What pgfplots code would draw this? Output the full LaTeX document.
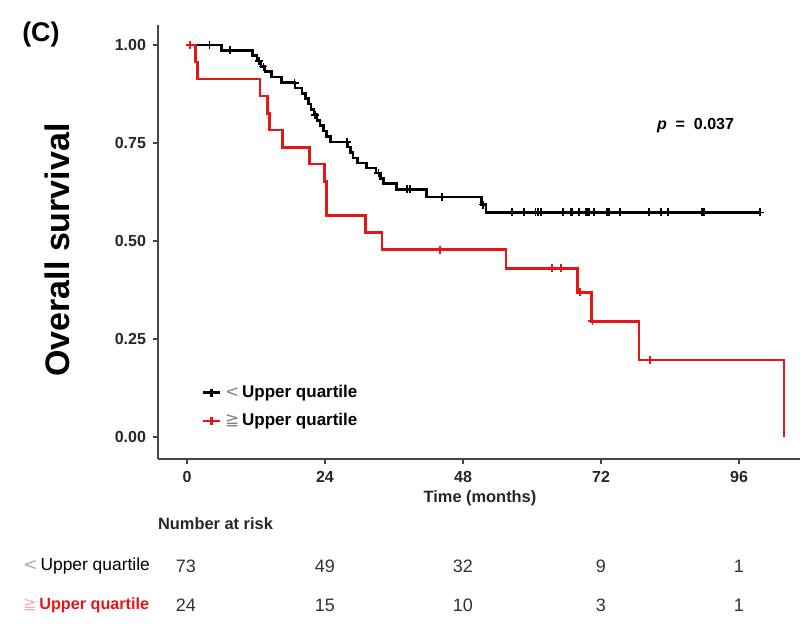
\documentclass[border=0pt]{standalone}
\usepackage{pgfplots}
\pgfplotsset{compat=1.18}
\usepackage{fontspec}
\setmainfont{Liberation Sans}
\newfontfamily\symfont{DejaVu Sans}
\definecolor{kmred}{RGB}{228,22,22}
\definecolor{axgray}{RGB}{70,70,70}
\definecolor{txtgray}{RGB}{50,50,50}
\begin{document}
\begin{tikzpicture}
\useasboundingbox (0,0) rectangle (400pt,319.5pt);
\begin{axis}[
  at={(79pt,90pt)}, anchor=south west,
  width=321pt, height=217pt, scale only axis,
  xmin=-5.04, xmax=106.6, ymin=-0.056, ymax=1.051,
  axis x line*=bottom, axis y line*=left,
  axis line style={axgray, line width=0.7pt},
  xtick={0,24,48,72,96}, ytick={0,0.25,0.5,0.75,1},
  y tick label style={/pgf/number format/.cd, fixed, fixed zerofill, precision=2, /tikz/.cd},
  tick style={axgray, line width=0.6pt},
  tick align=outside, major tick length=2.5pt,
  ticklabel style={font=\bfseries\fontsize{8}{9}\selectfont, text=black!85},
  /pgf/number format/assume math mode=true,
  clip=false,
  legend style={draw=none, fill=none, at={(0.067,0.12)}, anchor=west,
    font=\bfseries\fontsize{8.5}{10}\selectfont, row sep=2.5pt, inner sep=0pt},
  legend cell align=left,
  legend image code/.code={\draw[mark repeat=2, mark phase=2, #1] plot coordinates {(0cm,0cm) (0.15cm,0cm) (0.3cm,0cm)};},
]
% legend entries
\addlegendimage{black, line width=1.3pt, mark=+, mark size=2pt}
\addlegendentry{{\color{gray}\mdseries\symfont <}\,Upper quartile}
\addlegendimage{kmred, line width=1.3pt, mark=+, mark size=2pt}
\addlegendentry{{\color{gray}\mdseries\symfont ≧}\,Upper quartile}
% black curve
\addplot[const plot, black, line width=1.3pt, forget plot] coordinates {
(0,1.000) (6.0,0.986) (11.4,0.973) (12.2,0.959) (12.9,0.945) (13.6,0.932)
(14.7,0.918) (16.4,0.904) (18.8,0.890) (20.0,0.877) (20.6,0.863) (21.1,0.849)
(21.6,0.836) (22.1,0.822) (22.6,0.808) (23.1,0.795) (23.7,0.781) (24.3,0.767)
(25.0,0.753) (27.9,0.740) (28.4,0.726) (28.9,0.712) (29.6,0.699) (31.2,0.686)
(32.9,0.673) (33.6,0.659) (34.2,0.646) (36.4,0.632) (41.6,0.612) (51.2,0.593)
(52.0,0.573) (99.7,0.573)
};
\addplot[only marks, black, mark=+, mark size=2pt, line width=0.9pt, forget plot] coordinates {
(3.9,1.000) (7.5,0.986) (12.5,0.959) (13.3,0.945) (18.7,0.904) (22.3,0.822)
(27.8,0.753) (33.3,0.673) (38.3,0.632) (38.8,0.632) (44.3,0.612) (51.5,0.593)
(56.5,0.573) (58.6,0.573) (60.6,0.573) (61.0,0.573) (61.6,0.573) (65.4,0.573)
(66.8,0.573) (67.0,0.573) (68.2,0.573) (69.3,0.573) (69.6,0.573) (69.9,0.573)
(70.8,0.573) (73.0,0.573) (73.4,0.573) (75.3,0.573) (80.4,0.573) (82.4,0.573)
(83.6,0.573) (89.5,0.573) (89.9,0.573) (99.7,0.573)
};
% red curve
\addplot[const plot, kmred, line width=1.3pt, forget plot] coordinates {
(0,1.000) (1.5,0.957) (1.8,0.913) (12.7,0.870) (14.0,0.826) (14.4,0.783)
(16.6,0.739) (21.3,0.696) (23.9,0.652) (24.3,0.565) (31.0,0.522) (33.9,0.478)
(55.5,0.430) (67.9,0.369) (70.3,0.295) (78.6,0.197) (103.8,0.0)
};
\addplot[only marks, kmred, mark=+, mark size=2pt, line width=0.9pt, forget plot] coordinates {
(0.5,1.000) (44.0,0.478) (63.5,0.430) (65.0,0.430) (68.3,0.369) (70.5,0.295) (80.5,0.197)
};
\end{axis}
% texts
\node[font=\bfseries\fontsize{13.5}{15}\selectfont] at (20.5pt,302pt) {(C)};
\node[font=\bfseries\fontsize{17}{19}\selectfont, rotate=90] at (28.5pt,194.5pt) {Overall survival};
\node[anchor=west, font=\bfseries\fontsize{8}{9}\selectfont] at (325pt,256.5pt) {\textit{p}\ \ =\ \ 0.037};
\node[font=\bfseries\fontsize{8.2}{9}\selectfont, text=black!85] at (240pt,70.5pt) {Time (months)};
\node[anchor=west, font=\bfseries\fontsize{8.2}{9}\selectfont, text=black!85] at (75.5pt,57.5pt) {Number at risk};
\node[anchor=west, font=\fontsize{8.7}{10}\selectfont] at (8pt,36.5pt) {{\color{gray!70}\symfont <}\,Upper quartile};
\node[anchor=west, font=\bfseries\fontsize{8.1}{10}\selectfont, text=kmred] at (8pt,17pt) {{\color{kmred!35}\mdseries\symfont ≧}\,Upper quartile};
\foreach \xx/\a/\b in {93/73/24, 162.5/49/15, 231.5/32/10, 300.5/9/3, 369.5/1/1} {
  \node[font=\fontsize{9}{10}\selectfont, text=txtgray] at (\xx pt,36.5pt) {\a};
  \node[font=\fontsize{9}{10}\selectfont, text=txtgray] at (\xx pt,17pt) {\b};
}
\end{tikzpicture}
\end{document}
